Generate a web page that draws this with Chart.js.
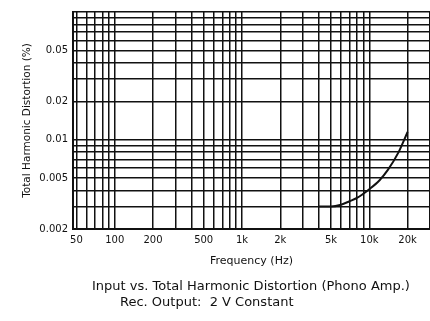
<!DOCTYPE html>
<html>
<head>
<meta charset="utf-8">
<script src="https://cdn.jsdelivr.net/npm/chart.js@4.4.1/dist/chart.umd.min.js"></script>
<style>
  html, body { margin: 0; padding: 0; background: #fff; }
  canvas { display: block; }
</style>
</head>
<body>
<canvas id="thdChart" width="430" height="321"></canvas>
<script>
// THD curve of the phono amp
const freqHz = [4000, 5000, 6000, 7000, 8000, 10000, 12000, 14000, 17000, 20000];
const thdPct = [0.003, 0.003, 0.0031, 0.0033, 0.0035, 0.0041, 0.0048, 0.0058, 0.008, 0.0115];

// log paper grid lines
const xGrid = [50, 60, 70, 80, 90, 100, 200, 300, 400, 500, 600, 700, 800, 900,
    1000, 2000, 3000, 4000, 5000, 6000, 7000, 8000, 9000, 10000, 20000, 30000];
const yGrid = [0.002, 0.003, 0.004, 0.005, 0.006, 0.007, 0.008, 0.009,
    0.01, 0.02, 0.03, 0.04, 0.05, 0.06, 0.07, 0.08, 0.09, 0.1];

// labelled ticks
const xLabels = { 50: "50", 100: "100", 200: "200", 500: "500", 1000: "1k",
    2000: "2k", 5000: "5k", 10000: "10k", 20000: "20k" };
const yLabels = { 0.002: "0.002", 0.005: "0.005", 0.01: "0.01", 0.02: "0.02", 0.05: "0.05" };

const captionLines = [
    "Input vs. Total Harmonic Distortion (Phono Amp.)",
    "Rec. Output:  2 V Constant",
];

const FONT = "'DejaVu Sans', Arial, sans-serif";
const INK = "#111";

const captionPlugin = {
    id: "caption",
    afterDraw(chart) {
        const c = chart.ctx;
        c.save();
        c.fillStyle = INK;
        c.font = "13px " + FONT;
        c.textBaseline = "middle";
        c.textAlign = "left";
        c.fillText(captionLines[0], 92, 287);
        c.fillText(captionLines[1], 120, 303);
        c.restore();
    },
};

const ctx = document.getElementById("thdChart").getContext("2d");

new Chart(ctx, {
    type: "line",
    data: {
        datasets: [{
            label: "THD",
            data: freqHz.map((f, i) => ({ x: f, y: thdPct[i] })),
            borderColor: INK,
            borderWidth: 2,
            pointRadius: 0,
            fill: false,
            cubicInterpolationMode: "monotone",
        }],
    },
    options: {
        responsive: false,
        animation: false,
        layout: { padding: { left: 0, right: 0, top: 12, bottom: 47 } },
        plugins: {
            legend: { display: false },
            tooltip: { enabled: false },
        },
        scales: {
            x: {
                type: "logarithmic",
                min: 47,
                max: 30000,
                afterBuildTicks: (scale) => {
                    scale.ticks = xGrid.map((v) => ({ value: v }));
                },
                afterFit: (scale) => {
                    scale.height = 45;
                    scale.paddingLeft = 0;
                    scale.paddingRight = 0;
                },
                ticks: {
                    autoSkip: false,
                    maxRotation: 0,
                    minRotation: 0,
                    padding: 5,
                    color: INK,
                    font: { family: FONT, size: 10 },
                    callback: (v) => xLabels[v] || "",
                },
                grid: { color: INK, lineWidth: 1.5, drawTicks: false },
                border: { color: INK, width: 2 },
                title: {
                    display: true,
                    text: "Frequency (Hz)",
                    color: INK,
                    font: { family: FONT, size: 11 },
                    padding: { top: 0, bottom: 6 },
                },
            },
            y: {
                type: "logarithmic",
                min: 0.002,
                max: 0.1,
                afterBuildTicks: (scale) => {
                    scale.ticks = yGrid.map((v) => ({ value: v }));
                },
                afterFit: (scale) => { scale.width = 73; },
                ticks: {
                    autoSkip: false,
                    padding: 5,
                    color: INK,
                    font: { family: FONT, size: 10 },
                    callback: (v) => yLabels[v] || "",
                },
                grid: { color: INK, lineWidth: 1.5, drawTicks: false },
                border: { color: INK, width: 2 },
                title: {
                    display: true,
                    text: "Total Harmonic Distortion (%)",
                    color: INK,
                    font: { family: FONT, size: 10.5 },
                    padding: { top: 21, bottom: 0 },
                },
            },
        },
    },
    plugins: [captionPlugin],
});
</script>
</body>
</html>
